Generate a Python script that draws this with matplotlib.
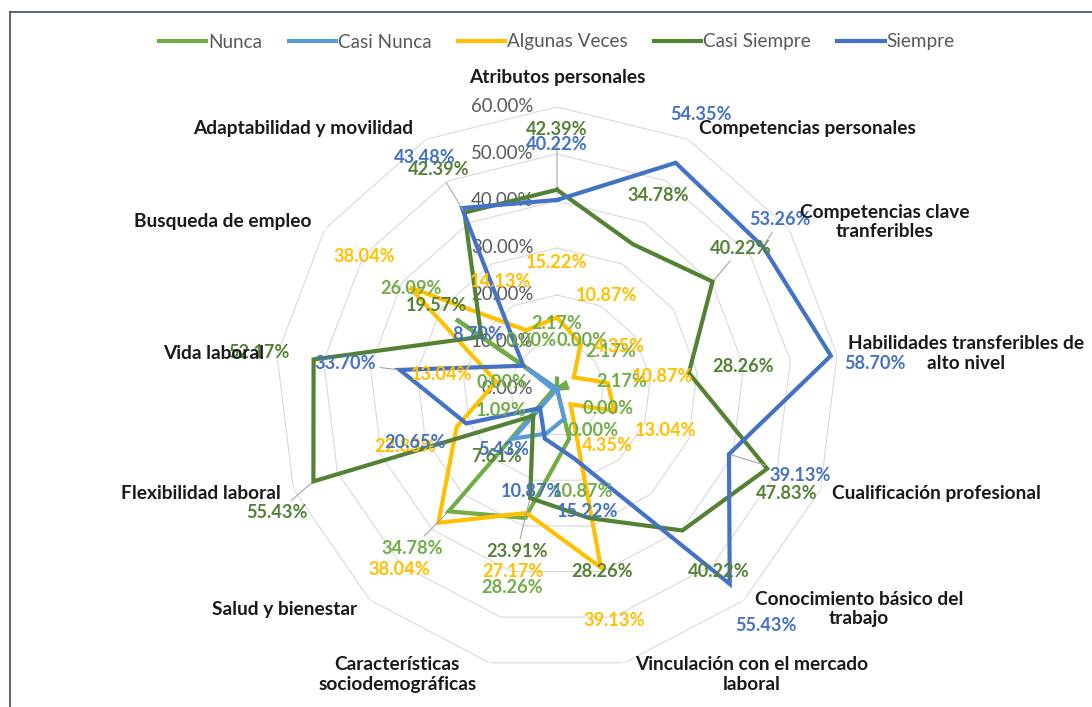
import numpy as np
import matplotlib.pyplot as plt
from matplotlib.lines import Line2D

plt.rcParams['font.family'] = ['Lato', 'DejaVu Sans']

# categories, clockwise from the top
categories = ["Atributos personales", "Competencias personales",
              "Competencias clave\ntranferibles", "Habilidades transferibles de\nalto nivel",
              "Cualificación profesional", "Conocimiento básico del\ntrabajo",
              "Vinculación con el mercado\nlaboral", "Características\nsociodemográficas",
              "Salud y bienestar", "Flexibilidad laboral", "Vida laboral",
              "Busqueda de empleo", "Adaptabilidad y movilidad"]

nunca = [2.17, 0.00, 2.17, 2.17, 0.00, 0.00, 10.87, 28.26, 34.78, 1.09, 0.00, 26.09, 0.00]
casi_nunca = [0.00, 0.00, 0.00, 0.00, 0.00, 0.00, 6.52, 9.78, 14.13, 0.00, 1.09, 7.61, 0.00]
algunas_veces = [15.22, 10.87, 4.35, 10.87, 13.04, 4.35, 39.13, 27.17, 38.04, 22.83, 13.04, 38.04, 14.13]
casi_siempre = [42.39, 34.78, 40.22, 28.26, 47.83, 40.22, 28.26, 23.91, 7.61, 55.43, 52.17, 19.57, 42.39]
siempre = [40.22, 54.35, 53.26, 58.70, 39.13, 55.43, 15.22, 10.87, 5.43, 20.65, 33.70, 8.70, 43.48]

series_names = ["Nunca", "Casi Nunca", "Algunas Veces", "Casi Siempre", "Siempre"]
ticks = [0, 10, 20, 30, 40, 50, 60]

colors = ["#70AD47", "#5B9BD5", "#FFC000", "#548235", "#4472C4"]
series = [nunca, casi_nunca, algunas_veces, casi_siempre, siempre]
show_labels = [True, False, True, True, True]

# a few labels were moved by hand in the original (offset in px, x right / y up)
moved = {(4, 2): (-28, -4), (3, 2): (-17, 2), (4, 4): (20, -2), (3, 4): (-32, -5),
         (4, 3): (-11, -14), (4, 12): (-12, 2), (3, 12): (0, -6), (3, 0): (0, 5),
         (3, 9): (15, -12), (2, 8): (-3, -6), (0, 8): (0, 4), (0, 7): (0, -16),
         (2, 7): (0, -5)}
# labels that show a leader line back to their point
leaders = {(3, 0), (3, 12), (4, 2), (3, 2), (4, 4), (3, 9), (0, 8), (3, 7), (4, 10)}

FS_CAT = 13.8
FS_LAB = 13.1
FS_TICK = 13.4
FS_LEG = 13.6
n = len(categories)
theta = np.arange(n) * 2 * np.pi / n
theta_c = np.append(theta, theta[0])

fig = plt.figure(figsize=(10.92, 7.07), dpi=100)
ax = fig.add_axes([0.25183, 0.05093, 0.51648, 0.79774], projection='polar')
ax.set_theta_zero_location('N')
ax.set_theta_direction(-1)
ax.set_ylim(0, 60)
ax.axis('off')

# polygon grid
for v in ticks[1:]:
    ax.plot(theta_c, [v] * (n + 1), color="#D9D9D9", lw=0.8, zorder=1)

for v in ticks:
    ax.annotate(f"{v:.2f}%", xy=(0, v), xytext=(-17, 0), textcoords='offset points',
                ha='right', va='center', fontsize=FS_TICK, color="#595959", zorder=2)

for vals, c in zip(series, colors):
    ax.plot(theta_c, list(vals) + [vals[0]], color=c, lw=3, zorder=3,
            solid_joinstyle='miter')

# data labels, pushed outwards along each spoke
d = 55 * 0.72
for s, (vals, c) in enumerate(zip(series, colors)):
    if not show_labels[s]:
        continue
    for i, v in enumerate(vals):
        dx, dy = d * np.sin(theta[i]), d * np.cos(theta[i])
        if (s, i) in moved:
            mx, my = moved[(s, i)]
            dx += mx * 0.72
            dy += my * 0.72
        arrow = None
        if (s, i) in leaders:
            arrow = dict(arrowstyle='-', color="#A6A6A6", lw=0.8, shrinkA=1, shrinkB=2)
        ax.annotate(f"{v:.2f}%", xy=(theta[i], v), xytext=(dx, dy),
                    textcoords='offset points', ha='center', va='center',
                    fontsize=FS_LAB, fontweight='bold', color=c, zorder=5,
                    annotation_clip=False, arrowprops=arrow)

# category labels
for i, lab in enumerate(categories):
    s = np.sin(theta[i])
    if abs(s) < 0.05:
        ha, dx, dy = 'center', 0, 29
    elif s > 0:
        ha, dx, dy = 'left', 11, 12 * np.cos(theta[i])
    else:
        ha, dx, dy = 'right', -13, 12 * np.cos(theta[i])
    ax.annotate(lab, xy=(theta[i], 60), xytext=(dx * 0.72, dy * 0.72),
                textcoords='offset points', ha=ha, va='center', multialignment='center',
                fontsize=FS_CAT, fontweight='bold', color="#1A1A1A", linespacing=1.2,
                annotation_clip=False, zorder=6)

handles = [Line2D([], [], color=c, lw=3) for c in colors]
leg = fig.legend(handles, series_names, loc='center', bbox_to_anchor=(0.51, 1 - 42 / 707),
                 ncol=5, frameon=False, fontsize=FS_LEG, handlelength=2.5, handletextpad=0.1,
                 columnspacing=1.4)
for t in leg.get_texts():
    t.set_color("#595959")

# chart border (top and left edges visible)
fig.add_artist(Line2D([10 / 1092, 1.0], [1 - 12 / 707, 1 - 12 / 707],
                      transform=fig.transFigure, color="#4D5B6B", lw=1.3))
fig.add_artist(Line2D([10 / 1092, 10 / 1092], [0.0, 1 - 12 / 707],
                      transform=fig.transFigure, color="#4D5B6B", lw=1.3))

fig.savefig("out.png", dpi=100)
